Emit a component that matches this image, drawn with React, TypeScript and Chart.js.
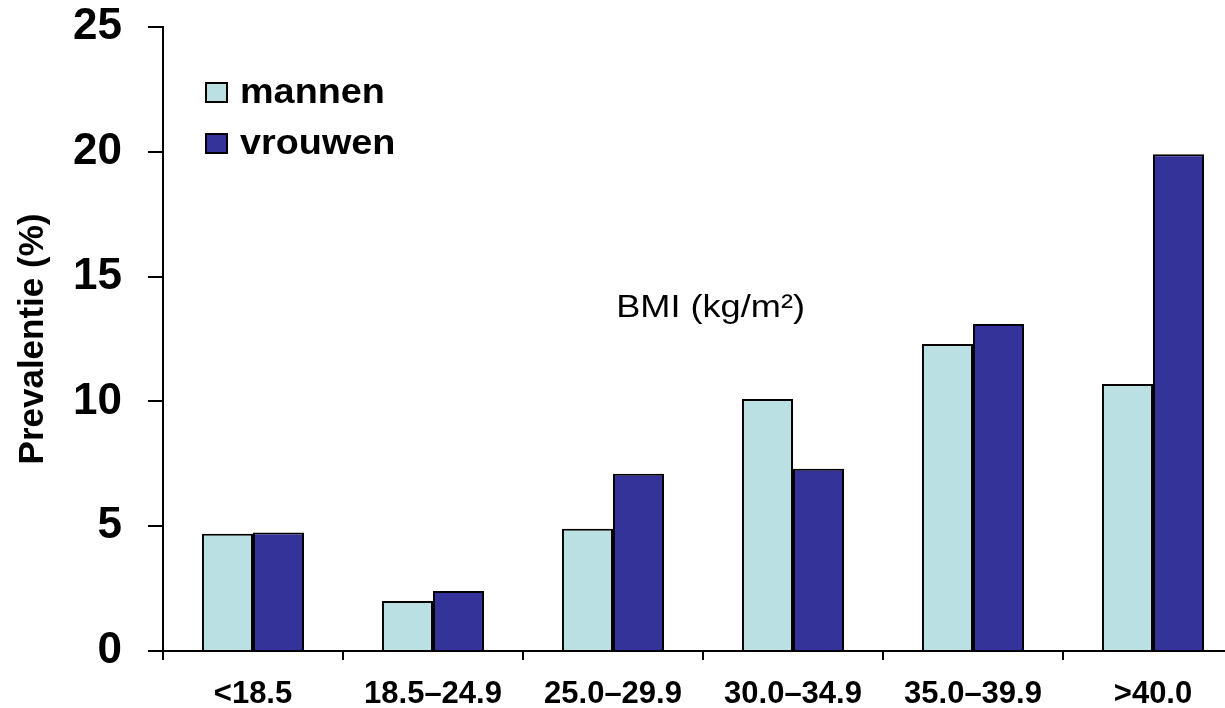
import React, { useEffect, useRef } from "react";
import { Chart, registerables } from "chart.js";

Chart.register(...registerables);

// BMI classes and prevalence (%) per sex
const categories = ["<18.5", "18.5–24.9", "25.0–29.9", "30.0–34.9", "35.0–39.9", ">40.0"];
const mannen = [4.7, 2.0, 4.9, 10.1, 12.3, 10.7];
const vrouwen = [4.75, 2.4, 7.1, 7.3, 13.1, 19.9];
const seriesLabels = ["mannen", "vrouwen"];
const yTicks = [0, 5, 10, 15, 20, 25];
const yTitle = "Prevalentie (%)";
const noteText = "BMI (kg/m²)";

const FONT = "'Liberation Sans', Arial, Helvetica, sans-serif";

// Draws the boxed legend in the upper left of the plot and the BMI note
const overlayPlugin = {
  id: "overlayText",
  afterDraw(chart: any) {
    const { ctx, chartArea } = chart;
    const left = chartArea.left;
    const top = chartArea.top;
    ctx.save();
    chart.data.datasets.forEach((ds: any, i: number) => {
      const boxX = left + 42;
      const boxY = top + 55 + i * 51;
      ctx.fillStyle = ds.backgroundColor;
      ctx.fillRect(boxX, boxY, 23, 21);
      ctx.strokeStyle = "#000";
      ctx.lineWidth = 2;
      ctx.strokeRect(boxX + 1, boxY + 1, 21, 19);
      ctx.save();
      ctx.translate(left + 77, top + 76 + i * 51);
      ctx.scale(1.08, 1);
      ctx.fillStyle = "#000";
      ctx.font = `bold 35px ${FONT}`;
      ctx.textAlign = "left";
      ctx.textBaseline = "alphabetic";
      ctx.fillText(ds.label, 0, 0);
      ctx.restore();
    });
    // note in the middle of the plot
    const cx = left + (chartArea.right - left) * 0.507;
    ctx.translate(cx, top + 290);
    ctx.scale(1.13, 1);
    ctx.fillStyle = "#000";
    ctx.font = `32px ${FONT}`;
    ctx.textAlign = "center";
    ctx.textBaseline = "alphabetic";
    ctx.fillText(noteText, 0, 0);
    ctx.restore();
  },
};

export default function App() {
  const canvasRef = useRef<HTMLCanvasElement | null>(null);

  useEffect(() => {
    const canvas = canvasRef.current;
    if (!canvas) return;
    const chart = new Chart(canvas, {
      type: "bar",
      data: {
        labels: categories,
        datasets: [
          {
            label: seriesLabels[0],
            data: mannen,
            backgroundColor: "#BAE0E3",
            borderColor: "#000000",
            borderWidth: 2,
            categoryPercentage: 0.567,
            barPercentage: 1.0,
          },
          {
            label: seriesLabels[1],
            data: vrouwen,
            backgroundColor: "#333399",
            borderColor: "#000000",
            borderWidth: 2,
            categoryPercentage: 0.567,
            barPercentage: 1.0,
          },
        ],
      },
      options: {
        responsive: false,
        maintainAspectRatio: false,
        animation: false,
        devicePixelRatio: 1,
        layout: { padding: { left: 0, top: 27, right: 17, bottom: 0 } },
        plugins: {
          legend: { display: false },
          tooltip: { enabled: false },
          title: { display: false },
        },
        scales: {
          x: {
            offset: true,
            grid: {
              display: true,
              offset: true,
              drawOnChartArea: false,
              drawTicks: true,
              tickLength: 9,
              color: "#000000",
              lineWidth: 2,
            },
            border: { display: true, color: "#000000", width: 2 },
            ticks: {
              color: "#000000",
              font: { family: FONT, size: 31, weight: "bold" },
              padding: 16,
              maxRotation: 0,
              autoSkip: false,
            },
            afterFit(scale: any) {
              scale.height = 57;
            },
          },
          y: {
            min: 0,
            max: 25,
            afterBuildTicks(scale: any) {
              scale.ticks = yTicks.map((v) => ({ value: v }));
            },
            grid: {
              display: true,
              drawOnChartArea: false,
              drawTicks: true,
              tickLength: 15,
              color: "#000000",
              lineWidth: 2,
            },
            border: { display: true, color: "#000000", width: 2 },
            ticks: {
              color: "#000000",
              font: { family: FONT, size: 44, weight: "bold" },
              padding: 26,
            },
            title: {
              display: true,
              text: yTitle,
              color: "#000000",
              font: { family: FONT, size: 35, weight: "bold" },
              padding: { top: 12, bottom: 0 },
            },
            afterFit(scale: any) {
              scale.width = 163;
              scale.paddingTop = 0;
              scale.paddingBottom = 0;
            },
          },
        },
      },
      plugins: [overlayPlugin],
    });
    return () => chart.destroy();
  }, []);

  return (
    <div
      style={{
        position: "fixed",
        left: 0,
        top: 0,
        width: 1225,
        height: 708,
        overflow: "hidden",
        background: "#ffffff",
      }}
    >
      <canvas
        ref={canvasRef}
        width={1260}
        height={708}
        style={{ display: "block", width: 1260, height: 708 }}
      />
    </div>
  );
}
